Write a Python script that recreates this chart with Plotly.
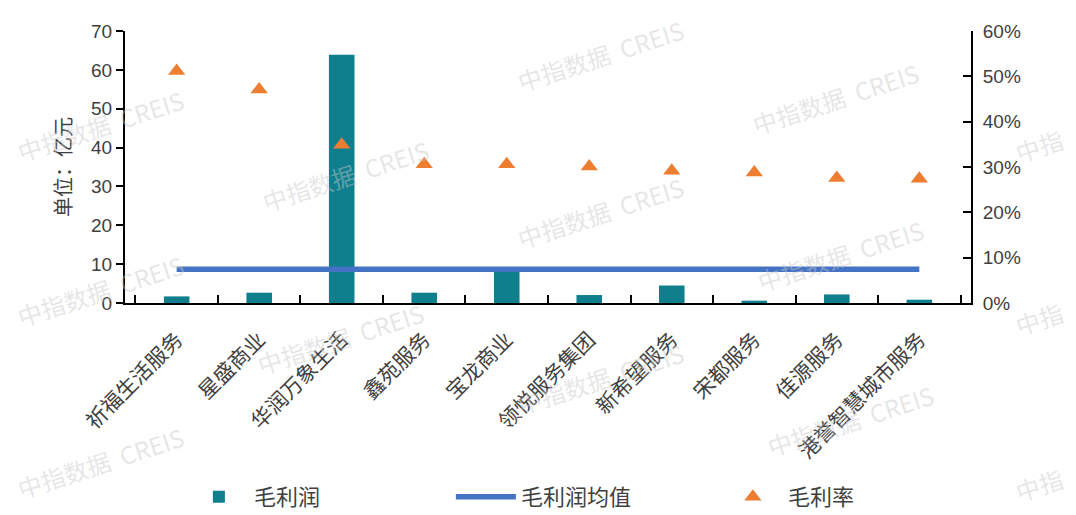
import plotly.graph_objects as go

categories = ["祈福生活服务", "星盛商业", "华润万象生活", "鑫苑服务", "宝龙商业",
              "领悦服务集团", "新希望服务", "宋都服务", "佳源服务", "港誉智慧城市服务"]
gross_profit = [1.7, 2.65, 63.9, 2.65, 8.3, 2.05, 4.5, 0.6, 2.2, 0.85]
gross_profit_avg = [8.7] * len(categories)
gross_margin = [0.512, 0.471, 0.349, 0.306, 0.306, 0.301, 0.292, 0.288, 0.276, 0.274]

left_ticks = [0, 10, 20, 30, 40, 50, 60, 70]
right_ticks = [0, 0.1, 0.2, 0.3, 0.4, 0.5, 0.6]

FONT = "Noto Sans CJK SC"
TXT = "#404040"
OFF = 8  # default page body margin
W, H = 1076 - OFF, 515 - OFF
PL, PR, PT, PB = 125 - OFF, 971 - OFF, 31 - OFF, 303 - OFF

fig = go.Figure()
fig.add_trace(go.Bar(x=categories, y=gross_profit, name="毛利润",
                     marker=dict(color="#0F7F8E", line=dict(width=0)), width=0.31))
fig.add_trace(go.Scatter(x=categories, y=gross_profit_avg, name="毛利润均值", mode="lines",
                         line=dict(color="#4472C4", width=5.5)))
fig.add_trace(go.Scatter(x=categories, y=gross_margin, name="毛利率", mode="markers",
                         marker=dict(symbol="triangle-up", size=15, color="#ED7D31"),
                         yaxis="y2"))

# watermarks (screen pixel positions of text centres)
wm_full = [(600, 55), (835, 98), (100, 125), (345, 175), (600, 212), (840, 255),
           (100, 290), (340, 338), (600, 378), (850, 420), (100, 462)]
wm_edge = [(1070, 145), (1070, 318), (1070, 484)]
wm_font = dict(family=FONT, size=24, color="rgba(200,200,200,0.45)")
for (sx, sy) in wm_full:
    px, py = sx - OFF, sy - OFF
    fig.add_annotation(x=(px - PL) / (PR - PL), y=(PB - py) / (PB - PT),
                       xref="paper", yref="paper", text="中指数据  CREIS",
                       showarrow=False, textangle=-18, font=wm_font,
                       xanchor="center", yanchor="middle")
for (sx, sy) in wm_edge:
    px, py = sx - OFF, sy - OFF
    fig.add_annotation(x=(px - PL) / (PR - PL), y=(PB - py) / (PB - PT),
                       xref="paper", yref="paper", text="中指",
                       showarrow=False, textangle=-18, font=wm_font,
                       xanchor="right", yanchor="middle")

fig.update_layout(
    width=W, height=H,
    margin=dict(l=PL, r=W - PR, t=PT, b=H - PB, autoexpand=False),
    paper_bgcolor="white", plot_bgcolor="white",
    font=dict(family=FONT, size=20, color=TXT),
    xaxis=dict(showline=True, linecolor="black", linewidth=2, ticks="inside",
               tickson="boundaries", ticklen=8, tickcolor="black", tickwidth=2,
               tickangle=-45, tickfont=dict(family=FONT, size=21, color=TXT),
               ticklabelstandoff=14,
               showgrid=False, automargin=False),
    yaxis=dict(range=[0, 70], tickvals=left_ticks, showline=True, linecolor="black",
               linewidth=2, ticks="outside", ticklen=7, tickcolor="black", tickwidth=2,
               showgrid=False, zeroline=False, automargin=False,
               title=dict(text="单位：亿元", font=dict(family=FONT, size=20, color=TXT), standoff=14),
               tickfont=dict(family="Liberation Sans", size=19, color=TXT)),
    yaxis2=dict(range=[0, 0.6], tickvals=right_ticks, tickformat=".0%", overlaying="y",
                side="right", showline=True, linecolor="black", linewidth=2,
                ticks="inside", ticklen=8, tickcolor="black", tickwidth=2,
                showgrid=False, zeroline=False, automargin=False, ticklabelstandoff=6,
                tickfont=dict(family="Liberation Sans", size=19, color=TXT)),
    legend=dict(orientation="h", x=0.543, xanchor="center", y=-0.713, yanchor="middle",
                font=dict(family=FONT, size=22, color=TXT), itemwidth=60,
                traceorder="normal", entrywidthmode="pixels", entrywidth=192,
                bgcolor="rgba(0,0,0,0)"),
    showlegend=True,
)

fig.write_html("out.html")
